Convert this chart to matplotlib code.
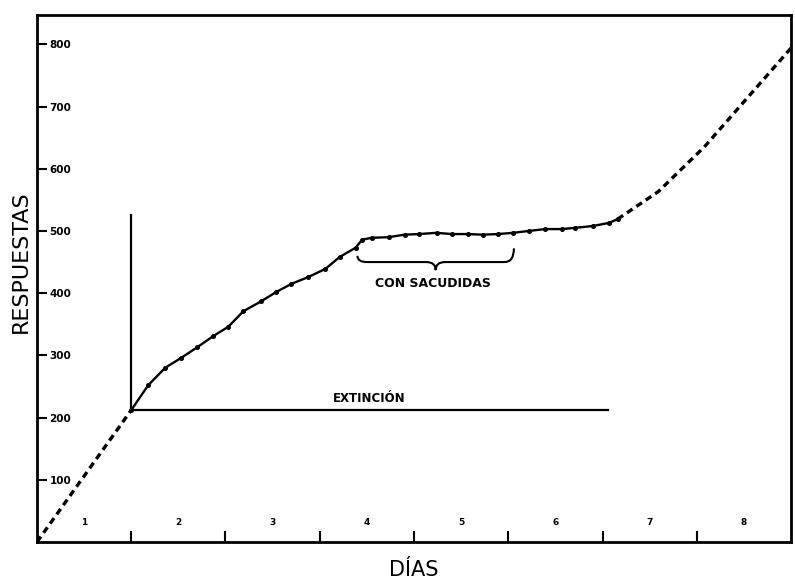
import matplotlib
matplotlib.use("Agg")
import matplotlib.pyplot as plt
from matplotlib.path import Path
from matplotlib.patches import PathPatch

# ----------- Data -----------
# acquisition before extinction (dashed)
days_pre = [0.0, 1.0]
resp_pre = [0, 212]

# extinction curve (solid, with points)
days_ext = [1.00, 1.18, 1.36, 1.53, 1.70, 1.87, 2.03, 2.19, 2.38, 2.54, 2.70,
            2.88, 3.06, 3.21, 3.38, 3.45, 3.55, 3.73, 3.90, 4.05, 4.24, 4.40,
            4.57, 4.73, 4.89, 5.05, 5.22, 5.39, 5.57, 5.71, 5.90, 6.07, 6.16]
resp_ext = [212, 252, 280, 296, 313, 331, 346, 371, 387, 402, 415,
            426, 439, 458, 473, 486, 489, 490, 494, 495, 497, 495,
            495, 494, 495, 497, 500, 503, 503, 505, 508, 513, 519]

# reconditioning (dashed)
days_post = [6.16, 6.59, 7.08, 8.0]
resp_post = [519, 563, 635, 794]

# reference lines for the extinction period
ext_start_day = 1.0
ext_end_day = 6.06
ext_level = 212
ext_top = 526

y_ticks = [100, 200, 300, 400, 500, 600, 700, 800]
day_bounds = [1, 2, 3, 4, 5, 6, 7]
day_labels = ["1", "2", "3", "4", "5", "6", "7", "8"]

# ----------- Plot -----------
fig = plt.figure(figsize=(7.95, 5.8), dpi=100)
ax = fig.add_axes([0.0465, 0.0655, 0.9485, 0.9085])
ax.set_xlim(0, 8)
ax.set_ylim(0, 847)

ax.plot(days_pre, resp_pre, color="black", lw=2.4, ls=(0, (2.0, 1.4)))
ax.plot(days_ext, resp_ext, color="black", lw=1.7, marker="o", ms=2.6)
ax.plot(days_post, resp_post, color="black", lw=2.4, ls=(0, (2.0, 1.4)))

# extinction marker lines
ax.plot([ext_start_day, ext_end_day], [ext_level, ext_level], color="black", lw=1.6)
ax.plot([ext_start_day, ext_start_day], [ext_level, ext_top], color="black", lw=1.6)
ax.text(3.52, 230, "EXTINCIÓN", ha="center", va="center", fontsize=8.5, fontweight="bold")

# curly brace under the flat part
def curly_brace(ax, x0, x1, y, h_left, h_right, h_tip, dx=0.1):
    xm = (x0 + x1) / 2
    verts = [(x0, y + h_left), (x0, y), (x0 + dx, y),
             (xm - dx, y), (xm, y), (xm, y - h_tip),
             (xm, y), (xm + dx, y),
             (x1 - dx, y), (x1, y), (x1, y + h_right)]
    codes = [Path.MOVETO, Path.CURVE3, Path.CURVE3,
             Path.LINETO, Path.CURVE3, Path.CURVE3,
             Path.CURVE3, Path.CURVE3,
             Path.LINETO, Path.CURVE3, Path.CURVE3]
    ax.add_patch(PathPatch(Path(verts, codes), fill=False, lw=1.5, color="black"))

curly_brace(ax, 3.40, 5.06, 450, 10, 22, 13)
ax.text(4.2, 416, "CON SACUDIDAS", ha="center", va="center", fontsize=9, fontweight="bold")

# axes styling
for s in ax.spines.values():
    s.set_linewidth(2.0)

ax.set_yticks(y_ticks)
ax.set_yticklabels([str(v) for v in y_ticks])
ax.tick_params(axis="y", direction="in", length=7, width=1.5, pad=-9,
               labelsize=7.5)
for lbl in ax.get_yticklabels():
    lbl.set_horizontalalignment("left")
    lbl.set_fontweight("bold")

ax.set_xticks(day_bounds)
ax.set_xticklabels([])
ax.tick_params(axis="x", direction="in", length=8, width=1.5)

for i, lab in enumerate(day_labels):
    ax.text(i + 0.5, 32, lab, ha="center", va="center", fontsize=6.5, fontweight="bold")

fig.text(21 / 795, 1 - 262 / 580, "RESPUESTAS", rotation=90, ha="center", va="center",
         fontsize=16)
fig.text(414 / 795, 1 - 570 / 580, "DÍAS", ha="center", va="center", fontsize=15)

fig.savefig("out.png", dpi=100)
